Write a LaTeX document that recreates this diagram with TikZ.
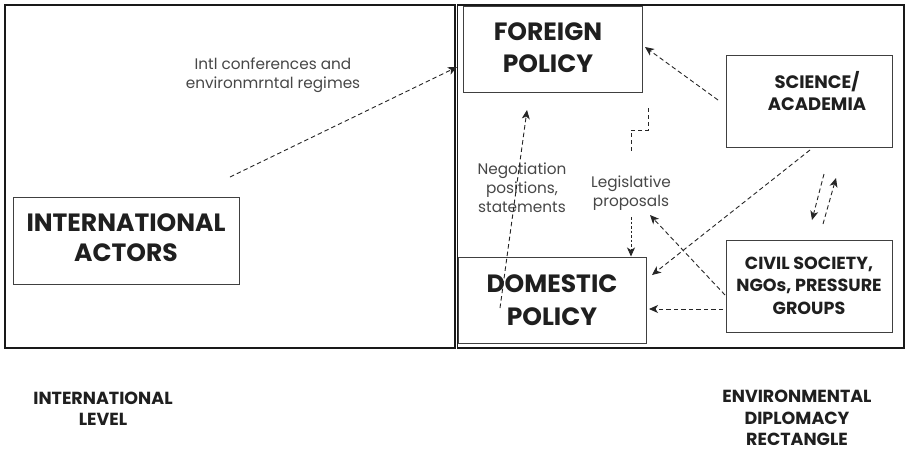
\documentclass[tikz,border=0pt]{standalone}
\usepackage{fontspec}
\setmainfont{Poppins}
\usetikzlibrary{arrows.meta}
\begin{document}
\begin{tikzpicture}[x=1pt,y=-1pt,
  frame/.style={draw=black!90, line width=1.8pt},
  box/.style={draw=black!75, line width=1pt, rectangle, inner sep=0pt},
  boxtext/.style 2 args={text=black!88, align=center, font=\bfseries\fontsize{#1}{#2}\selectfont},
  lbl/.style={text=black!72, align=center, font=\fontsize{15.3}{18.8}\selectfont},
  level/.style={text=black!88, align=center, font=\bfseries\fontsize{17.5}{21.5}\selectfont},
  flow/.style={draw=black!85, line width=0.9pt, dash pattern=on 4.5pt off 3pt,
    -{Stealth[length=9pt,width=8pt,inset=2.5pt]}},
  flowdot/.style={flow, dash pattern=on 2.5pt off 2pt},
  plain/.style={draw=black!85, line width=0.9pt, dash pattern=on 4pt off 3pt}]
\useasboundingbox (0,0) rectangle (906,451);
\fill[white] (0,0) rectangle (906,451);

% frames
\draw[frame] (5,5) rectangle (455,348);
\draw[frame] (457.5,5) rectangle (904,348);

% boxes
\node[box, minimum width=226pt, minimum height=87pt] (act) at (126,240.5) {};
\node[boxtext={25}{30}] (acttext) at (126,238) {INTERNATIONAL\\ACTORS};

\node[box, minimum width=179pt, minimum height=86pt] (for) at (552.5,49) {};
\node[boxtext={25}{32}] (fortext) at (548,48) {FOREIGN\\POLICY};

\node[box, minimum width=188pt, minimum height=86pt] (dom) at (552,300) {};
\node[boxtext={25}{33}] (domtext) at (552,300) {DOMESTIC\\POLICY};

\node[box, minimum width=166pt, minimum height=92pt] (sci) at (809,101) {};
\node[boxtext={18}{21.5}] (scitext) at (817,91) {SCIENCE/\\ACADEMIA};

\node[box, minimum width=166pt, minimum height=92pt] (civ) at (809,286) {};
\node[boxtext={17.5}{22.5}] (civtext) at (809,285.5) {CIVIL SOCIETY,\\NGOs, PRESSURE\\GROUPS};

% labels
\node[lbl] (intl) at (273,75) {Intl conferences and\\environmrntal regimes};
\node[lbl] (neg) at (522,188) {Negotiation\\positions,\\statements};
\node[lbl] (leg) at (631,193) {Legislative\\proposals};

\node[level] (intlevel) at (103,409) {INTERNATIONAL\\LEVEL};
\node[level] (envlevel) at (797,418) {ENVIRONMENTAL\\DIPLOMACY\\RECTANGLE};

% coordinates
\coordinate (intlstart) at (230,177);
\coordinate (intlend) at (457,67);
\coordinate (negstart) at (500,308);
\coordinate (negend) at (527,110);
\coordinate (stepa) at (648,108);
\coordinate (stepb) at (648,130);
\coordinate (stepc) at (631,130);
\coordinate (stepd) at (631,152);
\coordinate (legtop) at (631,217);
\coordinate (scifor) at (718,100);
\coordinate (forend) at (645,47);
\coordinate (scidom) at (810,150);
\coordinate (domend) at (652,275);
\coordinate (civleg) at (725,295);
\coordinate (legend) at (650,215);
\coordinate (civdom) at (723,309);
\coordinate (domend2) at (649,309);
\coordinate (downa) at (824,174);
\coordinate (downb) at (812,220);
\coordinate (upa) at (823,224);
\coordinate (upb) at (836,178);

% connectors
\draw[flow] (intlstart) -- (intlend);
\draw[flow] (negstart) -- (negend);
\draw[plain] (stepa) -- (stepb) -- (stepc) -- (stepd);
\draw[flowdot] (legtop) -- (legtop |- dom.north);
\draw[flow] (scifor) -- (forend);
\draw[flow] (scidom) -- (domend);
\draw[flow] (civleg) -- (legend);
\draw[flow] (civdom) -- (domend2);
\draw[flow] (downa) -- (downb);
\draw[flow] (upa) -- (upb);
\end{tikzpicture}
\end{document}
